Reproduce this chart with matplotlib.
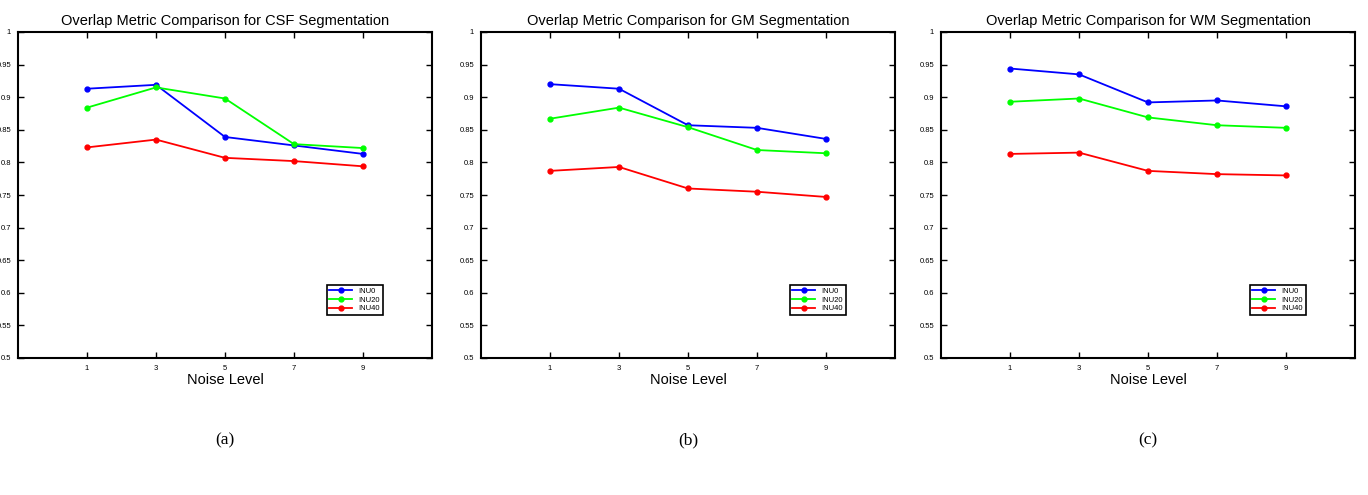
import matplotlib
matplotlib.use("Agg")
import matplotlib.pyplot as plt

plt.rcParams.update({"font.family": "Liberation Sans"})

noise = [1, 3, 5, 7, 9]
series_names = ["INU0", "INU20", "INU40"]
series_colors = ["#0000ff", "#00ff00", "#ff0000"]

csf_inu0 = [0.913, 0.919, 0.839, 0.826, 0.813]
csf_inu20 = [0.884, 0.915, 0.898, 0.828, 0.822]
csf_inu40 = [0.823, 0.835, 0.807, 0.802, 0.794]

gm_inu0 = [0.920, 0.913, 0.857, 0.853, 0.836]
gm_inu20 = [0.867, 0.884, 0.854, 0.819, 0.814]
gm_inu40 = [0.787, 0.793, 0.760, 0.755, 0.747]

wm_inu0 = [0.944, 0.935, 0.892, 0.895, 0.886]
wm_inu20 = [0.893, 0.898, 0.869, 0.857, 0.853]
wm_inu40 = [0.813, 0.815, 0.787, 0.782, 0.780]

panels = [
    ("Overlap Metric Comparison for CSF Segmentation", "(a)", [csf_inu0, csf_inu20, csf_inu40]),
    ("Overlap Metric Comparison for GM Segmentation", "(b)", [gm_inu0, gm_inu20, gm_inu40]),
    ("Overlap Metric Comparison for WM Segmentation", "(c)", [wm_inu0, wm_inu20, wm_inu40]),
]
yticks = [0.5, 0.55, 0.6, 0.65, 0.7, 0.75, 0.8, 0.85, 0.9, 0.95, 1.0]
ytick_labels = ["0.5", "0.55", "0.6", "0.65", "0.7", "0.75", "0.8", "0.85", "0.9", "0.95", "1"]

fig = plt.figure(figsize=(13.68, 4.95), dpi=100)
lefts = [18 / 1368, 481 / 1368, 941 / 1368]
width = 414 / 1368
bottom = (495 - 358) / 495
height = 326 / 495

for left, (title, tag, data) in zip(lefts, panels):
    ax = fig.add_axes([left, bottom, width, height])
    for name, color, vals in zip(series_names, series_colors, data):
        ax.plot(noise, vals, "-o", color=color, lw=1.3, ms=3.5, label=name)
    ax.set_xlim(-1, 11)
    ax.set_ylim(0.5, 1.0)
    ax.set_xticks(noise)
    ax.set_yticks(yticks)
    ax.set_yticklabels(ytick_labels)
    ax.tick_params(direction="in", top=True, right=True, labelsize=5.5,
                   length=4, width=1, pad=5)
    for sp in ax.spines.values():
        sp.set_linewidth(1.5)
    ax.set_title(title, fontsize=10.5, pad=5)
    ax.set_xlabel("Noise Level", fontsize=10.5, labelpad=1)
    leg = ax.legend(loc="lower right", bbox_to_anchor=(0.89, 0.12), fontsize=5.5,
                    fancybox=False, edgecolor="black", framealpha=1,
                    handlelength=3, borderpad=0.35, labelspacing=0.2)
    leg.get_frame().set_linewidth(1.2)
    fig.text(left + width / 2, 1 - 440 / 495, tag, ha="center", va="center",
             fontsize=12.5, family="Liberation Serif")

fig.savefig("out.png", dpi=100)
